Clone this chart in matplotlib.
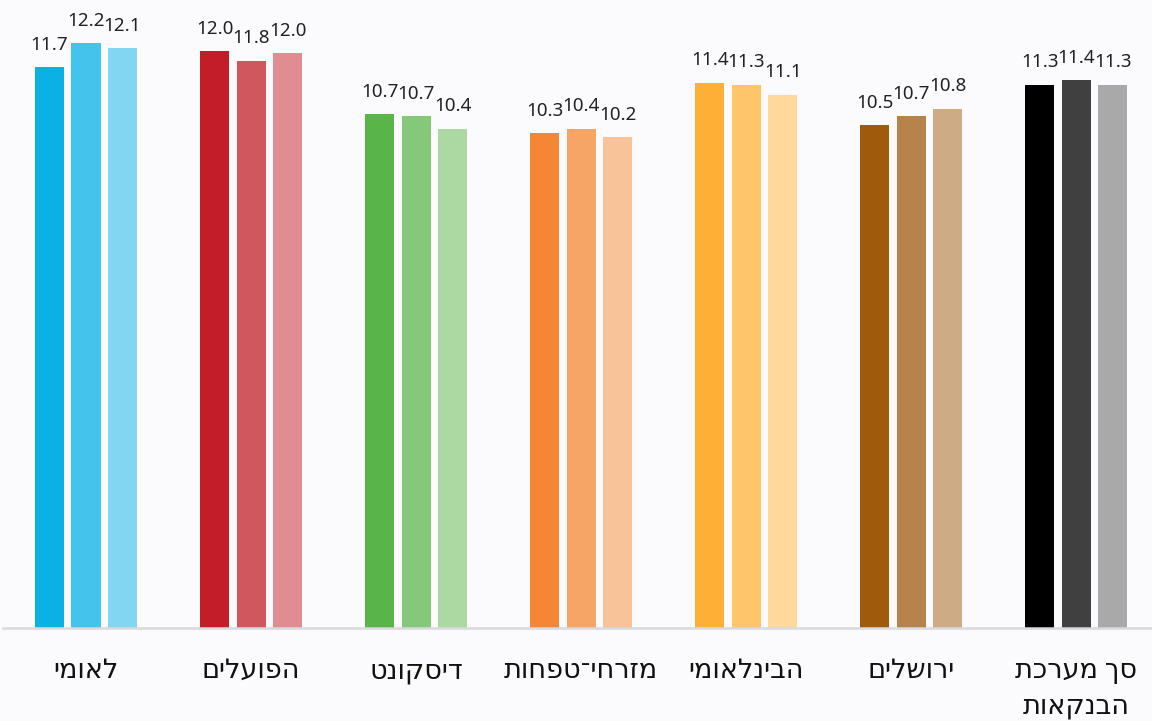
import matplotlib.pyplot as plt
import numpy as np

# data
banks = ['לאומי', 'הפועלים', 'דיסקונט', 'מזרחי־טפחות', 'הבינלאומי', 'ירושלים', 'סך מערכת\nהבנקאות']
s1 = [11.70, 12.04, 10.73, 10.33, 11.38, 10.50, 11.34]
s2 = [12.20, 11.84, 10.69, 10.42, 11.34, 10.69, 11.44]
s3 = [12.10, 12.00, 10.42, 10.24, 11.13, 10.84, 11.34]
colors = [
    ['#0bb0e5', '#44c3ec', '#82d6f2'],
    ['#c21d28', '#d0575e', '#e08c91'],
    ['#59b548', '#86c87a', '#acd9a2'],
    ['#f58634', '#f7a565', '#f9c39a'],
    ['#feb036', '#fec56a', '#fed99b'],
    ['#9f5b0b', '#b6834a', '#cdab84'],
    ['#000000', '#404040', '#a9a9a9'],
]

def rtl(s):
    # matplotlib has no bidi support, flip each line by hand
    return '\n'.join(line[::-1] for line in s.split('\n'))

plt.rcParams['font.family'] = ['Noto Sans', 'DejaVu Sans']
bg = '#fbfbfd'

fig = plt.figure(figsize=(11.52, 7.21), dpi=100, facecolor=bg)
ax = fig.add_axes([0.003, 0.129, 1.003, 0.864], facecolor=bg)

x = np.arange(len(banks))
w = 0.176
step = 0.221
for j, vals in enumerate([s1, s2, s3]):
    for i, v in enumerate(vals):
        xi = x[i] + (j - 1) * step
        ax.bar(xi, v, width=w, color=colors[i][j], zorder=2)
        ax.annotate('%.1f' % v, (xi, v), xytext=(0, 9.5), textcoords='offset points',
                    ha='center', va='bottom', fontsize=13.5, color='#222222')

ax.set_xlim(-0.5, len(banks) - 0.5)
ax.set_ylim(0, 13)
ax.set_yticks([])
ax.set_xticks(x)
ax.set_xticklabels([rtl(b) for b in banks], fontsize=19.5, color='#111111', linespacing=1.35)
ax.tick_params(axis='x', length=0, pad=21)
for sp in ['top', 'right', 'left']:
    ax.spines[sp].set_visible(False)
ax.spines['bottom'].set_color('#d9d9de')
ax.spines['bottom'].set_linewidth(1.8)

plt.savefig('out.png', dpi=100, facecolor=bg)
